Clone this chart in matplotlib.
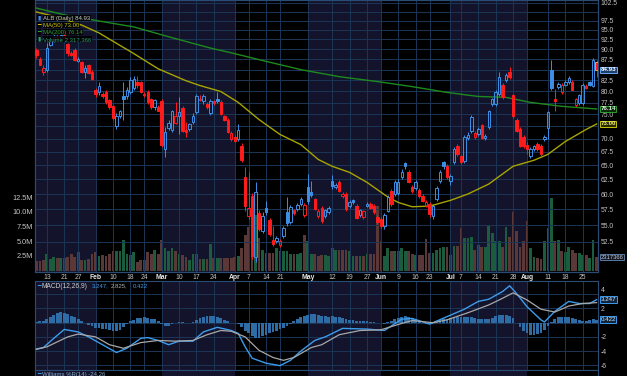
import numpy as np
import matplotlib.pyplot as plt

# ---------------- data ----------------
tick_idx = [3, 8, 12, 17, 22, 27, 31, 36, 41, 46, 51, 57, 61, 66, 70, 78, 85, 90, 95, 99,
            104, 109, 113, 119, 122, 127, 132, 137, 141, 147, 152, 157]
tick_lbl = ['13', '21', '27', 'Feb', '10', '18', '24', 'Mar', '10', '17', '24', 'Apr', '7', '14',
            '21', 'May', '12', '19', '27', 'Jun', '9', '16', '23', 'Jul', '7', '14', '21', '28',
            'Aug', '11', '18', '25']
month_names = ['Feb', 'Mar', 'Apr', 'May', 'Jun', 'Jul', 'Aug']
month_idx = [17, 36, 57, 78, 99, 119, 141]

prev_close = 90.5
ohlc = [
    (89.85, 90.35, 87.9, 88.6), (87.65, 88.1, 86.0, 86.2), (84.55, 86.0, 83.8, 85.5),
    (84.8, 91.6, 84.55, 90.35), (91.0, 93.5, 90.8, 92.6), (92.5, 94.0, 91.8, 93.2),
    (93.5, 94.5, 92.6, 93.0), (93.0, 94.2, 92.2, 93.6), (93.8, 94.6, 92.5, 92.8),
    (91.4, 91.6, 88.4, 89.1), (89.1, 89.6, 88.3, 88.6), (89.85, 90.2, 87.2, 87.4),
    (87.2, 88.1, 86.9, 87.65), (86.9, 87.2, 84.3, 84.55), (84.55, 86.2, 83.1, 85.5),
    (86.0, 86.3, 84.0, 84.3), (84.55, 84.8, 82.6, 82.9), (80.4, 80.85, 78.65, 79.3),
    (79.75, 82.2, 79.1, 81.3), (79.3, 79.9, 78.6, 78.85), (79.95, 80.3, 77.3, 77.55),
    (78.0, 78.4, 76.2, 76.45), (76.7, 77.0, 73.9, 74.15), (72.5, 75.2, 71.9, 74.75),
    (74.55, 76.0, 74.2, 75.6), (78.85, 82.0, 73.9, 78.4), (78.85, 81.0, 78.2, 80.4),
    (79.75, 83.3, 79.5, 82.65), (80.85, 83.6, 80.4, 82.9), (82.2, 83.6, 80.85, 81.5),
    (82.0, 82.4, 79.7, 79.95), (79.5, 79.9, 78.8, 79.1), (79.95, 80.3, 77.3, 77.55),
    (78.2, 78.5, 76.2, 76.45), (76.45, 78.4, 76.0, 78.0), (76.45, 76.9, 75.6, 75.8),
    (77.8, 78.2, 68.5, 68.9), (68.0, 72.3, 66.5, 71.3), (72.1, 73.8, 71.7, 73.3),
    (71.7, 76.0, 71.3, 75.6), (73.3, 77.55, 72.9, 74.55), (74.75, 78.65, 70.9, 75.4),
    (76.25, 76.7, 71.3, 71.5), (71.7, 73.5, 70.3, 71.3), (71.9, 73.3, 71.5, 72.9),
    (73.5, 75.2, 73.1, 74.75), (75.4, 79.3, 75.0, 78.85), (78.4, 79.1, 77.8, 78.0),
    (77.8, 79.3, 77.3, 78.85), (77.1, 77.6, 76.2, 76.45), (75.2, 78.2, 74.9, 77.8),
    (77.8, 78.1, 77.0, 77.35), (78.2, 79.75, 77.5, 77.8), (77.55, 78.0, 74.8, 75.0),
    (74.55, 74.9, 73.7, 73.9), (73.9, 74.3, 71.1, 71.3), (69.9, 71.6, 69.6, 71.2),
    (70.3, 70.7, 69.4, 69.7), (69.9, 73.1, 69.7, 71.7), (68.7, 69.2, 65.6, 65.95),
    (62.85, 64.65, 57.2, 58.0), (56.4, 63.9, 55.9, 57.7), (59.65, 60.2, 50.0, 50.4),
    (50.25, 62.0, 49.6, 60.3), (56.85, 57.3, 54.1, 54.4), (54.1, 57.0, 53.8, 56.4),
    (57.65, 58.8, 56.5, 57.0), (55.75, 56.1, 53.3, 53.6), (52.75, 54.85, 51.9, 52.2),
    (52.6, 53.3, 52.3, 53.0), (52.0, 52.9, 51.8, 52.6), (53.3, 54.9, 53.0, 54.55),
    (57.0, 59.5, 54.85, 55.3), (55.45, 58.2, 55.2, 57.8), (57.35, 57.6, 56.6, 56.85),
    (57.5, 58.5, 57.2, 58.15), (58.3, 59.5, 58.0, 59.1), (56.55, 58.5, 56.3, 58.15),
    (61.15, 63.4, 58.3, 58.8), (60.3, 62.15, 59.5, 59.8), (59.1, 59.4, 57.3, 57.5),
    (56.4, 57.5, 56.1, 57.2), (57.65, 58.0, 55.4, 55.6), (56.4, 57.6, 56.1, 57.35),
    (57.0, 58.0, 56.8, 57.65), (62.15, 63.2, 60.9, 61.3), (61.15, 61.9, 60.8, 61.5),
    (62.0, 62.4, 60.3, 60.45), (59.65, 60.4, 59.3, 60.0), (60.0, 60.3, 57.2, 57.5),
    (58.0, 59.0, 57.7, 58.6), (58.95, 59.2, 58.4, 58.65), (58.0, 58.3, 55.9, 56.05),
    (56.55, 57.6, 56.3, 57.3), (56.2, 57.4, 55.9, 57.2), (58.0, 58.6, 57.8, 58.3),
    (58.3, 58.6, 57.5, 57.65), (58.0, 58.3, 56.8, 57.0), (56.2, 56.6, 55.2, 55.45),
    (55.9, 56.2, 54.6, 54.85), (54.85, 56.9, 54.4, 56.55), (57.2, 59.8, 57.0, 59.5),
    (60.45, 60.8, 58.1, 58.3), (60.0, 62.4, 59.7, 62.0), (60.15, 62.5, 59.9, 62.1),
    (62.85, 64.3, 62.5, 63.75), (65.4, 65.6, 64.4, 64.85), (63.75, 64.1, 61.8, 62.0),
    (61.15, 61.5, 60.2, 60.45), (60.95, 62.4, 60.6, 62.0), (60.65, 61.0, 59.4, 59.65),
    (59.65, 60.0, 58.6, 58.8), (58.1, 59.0, 57.8, 58.7), (58.3, 58.6, 56.3, 56.7),
    (56.4, 58.3, 55.9, 58.0), (59.1, 61.3, 58.8, 60.95), (62.15, 64.1, 61.9, 63.75),
    (65.55, 65.9, 64.4, 64.85), (64.85, 65.2, 62.6, 62.85), (62.15, 63.4, 61.5, 63.05),
    (65.55, 68.4, 65.2, 68.0), (68.55, 69.0, 66.8, 67.05), (66.7, 67.0, 65.2, 65.55),
    (65.75, 70.7, 65.4, 70.3), (70.1, 71.3, 69.8, 70.7), (71.5, 74.8, 71.2, 74.35),
    (70.3, 71.5, 70.0, 71.1), (70.9, 72.3, 70.6, 71.9), (72.7, 73.1, 69.9, 70.1),
    (70.1, 70.9, 69.8, 70.5), (72.3, 76.0, 72.0, 75.6), (77.1, 78.6, 76.8, 78.2),
    (77.1, 80.4, 76.8, 79.95), (79.3, 84.55, 79.0, 83.35), (81.5, 81.9, 78.4, 78.65),
    (82.65, 84.3, 82.2, 83.8), (84.55, 85.7, 82.9, 83.35), (79.1, 79.5, 74.3, 74.55),
    (73.9, 74.3, 71.3, 71.5), (71.9, 72.3, 68.5, 68.7), (70.3, 70.7, 68.3, 68.55),
    (68.9, 69.5, 67.05, 68.0), (66.7, 68.4, 66.4, 68.1), (68.0, 68.9, 67.7, 68.55),
    (69.1, 69.4, 67.7, 68.0), (68.7, 69.0, 66.8, 67.05), (69.9, 70.7, 69.6, 70.3),
    (72.1, 75.8, 69.9, 75.4), (84.8, 87.4, 80.4, 80.85), (78.4, 80.6, 75.6, 77.8),
    (81.05, 82.2, 80.6, 81.75), (79.75, 81.9, 79.4, 81.5), (81.5, 82.6, 81.2, 82.2),
    (82.0, 83.6, 81.7, 83.1), (82.2, 82.6, 80.2, 80.4), (76.9, 78.6, 76.5, 78.2),
    (77.35, 79.5, 77.0, 79.1), (77.35, 81.9, 77.0, 81.5), (81.3, 81.6, 80.5, 80.85),
    (82.0, 82.4, 81.2, 81.5), (81.3, 87.9, 81.0, 87.4), (86.9, 87.3, 83.3, 84.93),
]

volume_m = [
    1.7, 1.7, 1.9, 2.8, 2.0, 2.4, 2.1, 2.1, 2.1, 2.4,
    2.8, 2.3, 3.2, 1.9, 1.9, 2.0, 2.8, 3.2, 2.5, 2.6,
    2.5, 2.9, 3.3, 3.4, 3.4, 5.2, 2.8, 2.6, 3.2, 1.5,
    1.9, 1.9, 3.2, 2.8, 3.6, 2.8, 5.2, 3.9, 3.4, 3.9,
    3.4, 2.8, 2.6, 2.3, 1.9, 2.8, 2.8, 2.0, 2.0, 2.0,
    4.5, 2.1, 2.1, 2.1, 2.1, 2.1, 2.1, 2.3, 2.5, 3.9,
    6.0, 7.4, 11.0, 9.5, 5.5, 3.5, 3.0, 3.0, 3.0, 3.9,
    3.3, 3.3, 3.3, 2.8, 2.8, 2.8, 3.0, 6.0, 5.1, 2.8,
    2.8, 2.5, 2.6, 2.6, 2.5, 3.8, 3.5, 3.5, 3.5, 3.5,
    3.3, 2.5, 2.5, 2.5, 2.5, 2.8, 2.8, 2.8, 11.0, 5.1,
    2.5, 3.8, 3.3, 3.3, 3.3, 3.8, 3.3, 3.3, 2.8, 2.6,
    2.6, 2.6, 5.4, 3.0, 3.0, 3.5, 3.8, 4.0, 4.0, 2.6,
    4.2, 4.2, 7.2, 5.5, 5.5, 5.8, 3.6, 4.4, 4.1, 4.1,
    7.6, 6.4, 5.0, 5.0, 4.1, 7.4, 5.7, 10.0, 6.8, 4.1,
    5.0, 8.4, 3.9, 2.3, 2.1, 2.0, 5.0, 7.3, 12.3, 5.0,
    5.3, 3.3, 3.2, 4.1, 3.6, 3.0, 3.0, 2.6, 2.6, 2.1,
    5.3, 2.317,
]

ma50_idx = [0, 7, 13, 18, 28, 35, 43, 47, 53, 58, 64, 70, 76, 81, 85, 90, 95, 101, 104,
            108, 113, 119, 124, 130, 137, 143, 147, 152, 158, 161]
ma50_val = [99.9, 98.2, 96.3, 94.2, 88.9, 85.2, 82.4, 81.3, 79.95, 77.55, 73.9, 70.9, 68.9,
            66.1, 64.85, 63.75, 62.0, 59.5, 58.6, 57.9, 58.0, 58.95, 60.0, 61.7, 64.85, 65.95,
            67.05, 69.5, 71.9, 73.0]
ma200_idx = [0, 8, 18, 28, 38, 50, 56, 64, 76, 87, 99, 108, 118, 127, 135, 142, 151, 161]
ma200_val = [101.0, 99.1, 97.4, 95.8, 93.2, 90.3, 89.1, 87.4, 85.0, 83.35, 82.1, 81.05, 79.75,
             78.85, 78.65, 77.55, 76.7, 76.14]

macd_hist = [
    0.1, 0.2, 0.3, 0.5, 0.8, 1.1, 1.3, 1.45, 1.4, 1.2,
    1.0, 0.8, 0.55, 0.3, 0.0, -0.3, -0.5, -0.7, -0.8, -0.85,
    -0.9, -1.0, -1.1, -1.1, -1.0, -0.6, -0.2, 0.2, 0.4, 0.6,
    0.7, 0.75, 0.7, 0.55, 0.45, 0.2, -0.2, -0.45, -0.4, -0.2,
    0.0, 0.15, 0.1, 0.0, -0.05, 0.05, 0.4, 0.7, 0.85, 0.9,
    0.95, 0.9, 0.8, 0.6, 0.4, 0.2, 0.0, -0.1, -0.2, -0.6,
    -1.1, -1.5, -1.9, -2.2, -2.1, -1.9, -1.7, -1.5, -1.3, -1.1,
    -0.9, -0.7, -0.4, -0.2, 0.2, 0.5, 0.8, 1.0, 1.15, 1.2,
    1.2, 1.15, 1.0, 0.9, 0.85, 0.9, 0.85, 0.75, 0.6, 0.5,
    0.4, 0.35, 0.3, 0.25, 0.2, 0.2, 0.15, 0.1, 0.0, -0.1,
    -0.2, 0.1, 0.3, 0.5, 0.7, 0.85, 0.9, 0.85, 0.6, 0.4,
    0.2, 0.0, -0.15, -0.2, -0.1, 0.1, 0.35, 0.5, 0.55, 0.6,
    0.7, 0.8, 0.85, 0.8, 0.75, 0.8, 0.6, 0.5, 0.45, 0.45,
    0.5, 0.7, 0.9, 1.05, 1.1, 1.1, 1.0, 0.6, 0.0, -0.6,
    -1.1, -1.5, -1.7, -1.7, -1.6, -1.4, -1.0, -0.5, 0.1, 0.5,
    0.8, 0.85, 0.85, 0.75, 0.6, 0.45, 0.35, 0.3, 0.3, 0.35,
    0.45, 0.422,
]
macd_idx = [0, 2, 5, 8, 12, 15, 19, 23, 26, 30, 32, 35, 38, 41, 45, 48, 52, 56, 58, 60,
            62, 66, 70, 73, 76, 80, 83, 88, 95, 100, 105, 108, 113, 118, 123, 127, 130, 134,
            136, 138, 141, 145, 146, 149, 153, 156, 159, 161]
macd_val = [-3.7, -3.5, -2.2, -0.95, -1.3, -2.0, -3.1, -4.2, -3.6, -2.2, -2.1, -2.5, -3.1,
            -2.6, -2.6, -1.3, -0.65, -1.1, -1.5, -3.4, -5.0, -5.7, -6.05, -5.3, -4.0, -2.5,
            -2.0, -0.8, -0.9, -1.1, 0.5, 0.6, -0.2, 0.85, 1.9, 3.0, 3.3, 4.4, 5.2, 4.1, 2.25,
            0.4, 0.1, 1.6, 3.0, 2.7, 2.7, 3.247]
sig_idx = [0, 3, 9, 12, 17, 21, 25, 30, 35, 40, 45, 49, 53, 56, 60, 64, 68, 71, 74, 79,
           82, 87, 93, 99, 105, 108, 114, 118, 124, 130, 133, 137, 141, 145, 149, 153, 157, 161]
sig_val = [-3.75, -3.4, -2.0, -1.6, -2.0, -3.1, -3.6, -2.8, -2.5, -2.6, -2.5, -1.7, -1.1,
           -1.2, -2.0, -3.9, -4.9, -5.3, -4.9, -3.5, -3.1, -1.7, -1.1, -1.0, -0.1, 0.3, 0.0,
           0.4, 1.4, 2.5, 3.2, 4.2, 3.2, 1.9, 1.5, 2.35, 2.7, 2.825]

# ---------------- styling ----------------
plt.rcParams['font.family'] = ['Liberation Sans', 'DejaVu Sans']
BLUE = '#3d8fe6'
RED = '#ff1c1c'
NAVY = '#13132b'
GRID = '#1c3656'
SPINE = '#2a4c74'
TXT = '#c4c4c4'
FS = 4.9      # axis labels
FL = 4.3      # legend / panel captions
FT = 4.4      # value tags on the right

W, H = 627, 376
fig = plt.figure(figsize=(W / 100, H / 100), dpi=100, facecolor='black')


def px_axes(x0, y0, x1, y1):
    return fig.add_axes([x0 / W, 1 - y1 / H, (x1 - x0) / W, (y1 - y0) / H])


ax_v = px_axes(35, 0, 598, 271.5)
ax = px_axes(35, 0, 598, 271.5)
ax_m = px_axes(35, 281, 598, 370)
ax_w = px_axes(35, 370, 598, 376)

n = len(ohlc)
x = np.arange(n)
XL = (-0.4, n - 0.6)
edges = [XL[0]] + month_idx + [XL[1]]

for a in (ax_v, ax_m, ax_w):
    a.set_facecolor('black')
    for k in range(len(edges) - 1):
        if k % 2 == 0:
            a.axvspan(edges[k], edges[k + 1], color=NAVY, lw=0, zorder=0)
ax.set_facecolor('none')

for a in (ax_v, ax, ax_m, ax_w):
    a.set_xlim(*XL)
    for s in a.spines.values():
        s.set_color(SPINE)
        s.set_linewidth(0.8)

# ---------------- volume ----------------
o = np.array([r[0] for r in ohlc])
h = np.array([r[1] for r in ohlc])
l = np.array([r[2] for r in ohlc])
c = np.array([r[3] for r in ohlc])
pc = np.r_[prev_close, c[:-1]]
up = c >= pc

vcol = np.where(up, '#1b5c3f', '#5a3838')
ax_v.bar(x, volume_m, width=0.78, color=vcol, zorder=2)
ax_v.set_ylim(-0.14, 46.1)
ax_v.set_yticks([2.5, 5, 7.5, 10, 12.5])
ax_v.set_yticklabels(['2.5M', '5.0M', '7.5M', '10.0M', '12.5M'])
ax_v.tick_params(axis='y', length=0, pad=1.5, labelsize=FS + 0.4, colors=TXT)
ax_v.set_xticks([])

# ---------------- price ----------------
ax.set_yscale('log')
ax.set_ylim(48.3, 103.3)
pt = np.arange(52.5, 103, 2.5)
hidden = {'85.0', '72.5', '100.0'}   # covered by the value tags in the reference
ax.set_yticks(pt)
ax.set_yticklabels(['' if f'{t:.1f}' in hidden else f'{t:.1f}' for t in pt])
ax.yaxis.set_minor_locator(plt.NullLocator())
ax.yaxis.tick_right()
ax.tick_params(axis='y', length=0, pad=2, labelsize=FS, colors=TXT)
ax.set_xticks(tick_idx)
ax.set_xticklabels(tick_lbl)
ax.tick_params(axis='x', length=0, pad=2.0, labelsize=FS, colors=TXT)
for lab in ax.get_xticklabels():
    if lab.get_text() in month_names:
        lab.set_fontweight('bold')
        lab.set_color('#e8e8e8')
ax.grid(True, color=GRID, lw=0.7, zorder=1)

col = np.where(up, BLUE, RED)
filled = c < o
top = np.maximum(o, c)
bot = np.minimum(o, c)
ax.vlines(x, top, h, colors=col, lw=0.7, zorder=3)
ax.vlines(x, l, bot, colors=col, lw=0.7, zorder=3)
face = [cc if f else 'none' for cc, f in zip(col, filled)]
edge = list(col)
edge[-1] = '#e0b020'
ax.bar(x, np.maximum(top - bot, 0.12), bottom=bot, width=0.7, color=face,
       edgecolor=edge, linewidth=0.7, zorder=4)

ax.plot(ma50_idx, ma50_val, color='#a8a400', lw=1.0, zorder=3)
ax.plot(ma200_idx, ma200_val, color='#1e8a1e', lw=1.0, zorder=3)

# legend block
leg = [('ALB (Daily) 84.93', '#c8c8c8', BLUE),
       ('MA(50) 73.00', '#c8c400', '#c8c400'),
       ('MA(200) 76.14', '#2ea02e', '#2ea02e'),
       ('Volume 2,317,366', '#2e9a66', '#2e9a66')]
for k, (t, tc, ic) in enumerate(leg):
    yy = 1 - (18.3 + 7 * k) / 271.5
    ax.text(2.0 / 563, yy, '\u25ae' if k in (0, 3) else '\u2501', transform=ax.transAxes,
            fontsize=FL, color=ic, va='center', ha='left', zorder=8,
            family='DejaVu Sans',
            bbox=dict(fc='black', ec='none', pad=0.3, alpha=0.85))
    ax.text(8.0 / 563, yy, t, transform=ax.transAxes, fontsize=FL, color=tc,
            va='center', ha='left', zorder=8,
            bbox=dict(fc='black', ec='none', pad=0.3, alpha=0.85))

# right side value tags
tr = ax.get_yaxis_transform()
for val, txt, fc, ec, tc in [(84.93, '84.93', '#1d3f6e', '#6aaaf0', 'white'),
                             (76.14, '76.14', '#0c2a0c', '#2ea02e', '#d8f0d8'),
                             (73.0, '73.00', '#2a2a00', '#c8c400', '#f0f080')]:
    ax.text(1.004, val, txt, transform=tr, fontsize=FT, color=tc, va='center', ha='left',
            fontweight='bold', zorder=10, clip_on=False,
            bbox=dict(boxstyle='square,pad=0.12', fc=fc, ec=ec, lw=0.7))
ax_v.text(1.004, volume_m[-1], '2317366', transform=ax_v.get_yaxis_transform(),
          fontsize=FT - 0.2, color='#c8c8c8', va='center', ha='left', zorder=10,
          clip_on=False,
          bbox=dict(boxstyle='square,pad=0.12', fc='#101828', ec='#5a7aa0', lw=0.7))

# ---------------- MACD ----------------
ax_m.bar(x, macd_hist, width=0.8, color='#2d6ca4', zorder=2)
ax_m.plot(macd_idx, macd_val, color='#3d9cec', lw=1.0, zorder=3)
ax_m.plot(sig_idx, sig_val, color='#a8a8a8', lw=0.9, zorder=3)
ax_m.set_ylim(-6.66, 5.87)
ax_m.set_yticks([-6, -4, -2, 0, 2, 4])
ax_m.set_yticklabels(['-6', '-4', '-2', '', '2', '4'])
ax_m.yaxis.tick_right()
ax_m.tick_params(axis='y', length=0, pad=2, labelsize=FS, colors=TXT)
ax_m.set_xticks(tick_idx)
ax_m.tick_params(axis='x', length=0, labelbottom=False)
ax_m.grid(True, color=GRID, lw=0.7, zorder=1)
ax_m.set_axisbelow(True)
# nudge the "4" label up a touch so the MACD tag does not sit on it
for lab in ax_m.get_yticklabels():
    if lab.get_text() == '4':
        lab.set_va('bottom')

ym = 1 - 5.0 / 89
ax_m.text(2.0 / 563, ym, '\u2501', transform=ax_m.transAxes, fontsize=FL, family='DejaVu Sans',
          color='#3d9cec', va='center', ha='left', zorder=8)
ax_m.text(7.0 / 563, ym, 'MACD(12,26,9)', transform=ax_m.transAxes, fontsize=FS - 0.1,
          color='#d0d0d0', va='center', ha='left', zorder=8)
ax_m.text(57.0 / 563, ym, '3.247,', transform=ax_m.transAxes, fontsize=FL, color='#3d9cec',
          va='center', ha='left', zorder=8)
ax_m.text(75.5 / 563, ym, '2.825,', transform=ax_m.transAxes, fontsize=FL, color='#b0b0b0',
          va='center', ha='left', zorder=8)
ax_m.text(97.5 / 563, ym, '0.422', transform=ax_m.transAxes, fontsize=FL, color='#3d9cec',
          va='center', ha='left', zorder=8)
trm = ax_m.get_yaxis_transform()
for val, txt in [(3.247, '3.247'), (0.422, '0.422')]:
    ax_m.text(1.004, val, txt, transform=trm, fontsize=FT, color='#d8ecff', va='center',
              ha='left', zorder=10, clip_on=False,
              bbox=dict(boxstyle='square,pad=0.12', fc='#10243c', ec='#3d9cec', lw=0.7))

# ---------------- Williams %R strip ----------------
ax_w.set_xticks([])
ax_w.set_yticks([])
ax_w.set_ylim(0, 1)
ax_w.text(2.0 / 563, 0.2, '\u2501', transform=ax_w.transAxes, fontsize=FL,
          family='DejaVu Sans', color='#3d9cec', va='center', ha='left')
ax_w.text(7.0 / 563, 0.2, 'Williams %R(14) -24.26', transform=ax_w.transAxes,
          fontsize=FL, color='#8aa8c8', va='center', ha='left')

fig.savefig('out.png', dpi=100, facecolor='black')
